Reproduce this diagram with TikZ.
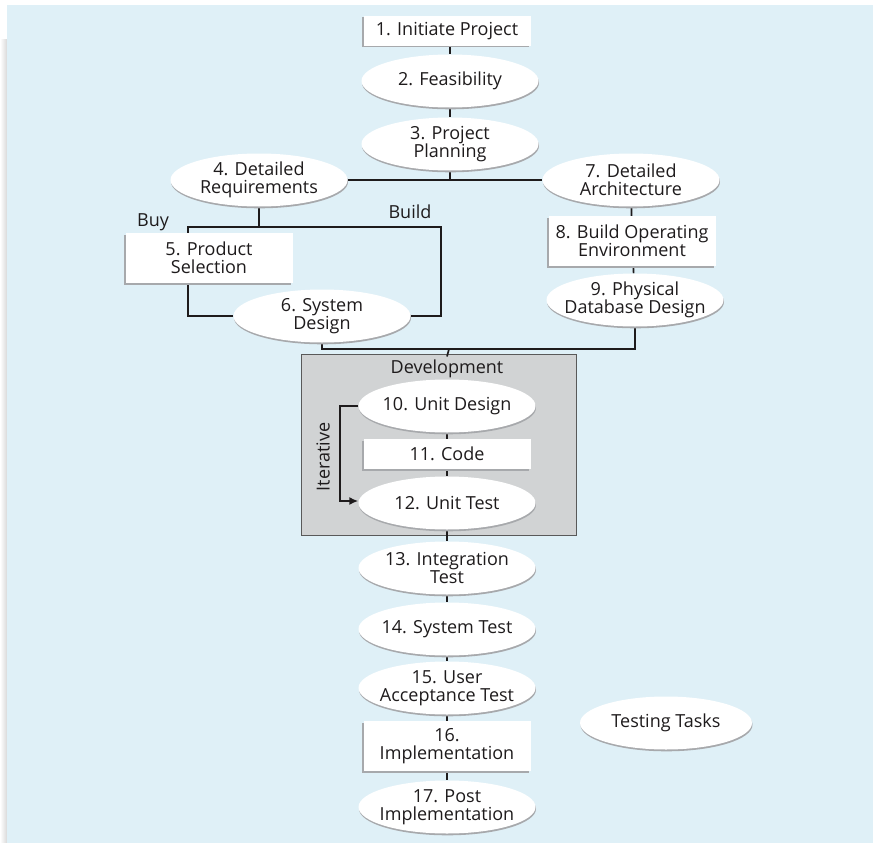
\documentclass[tikz,border=0pt]{standalone}
\usepackage{fontspec}
\setmainfont{Open Sans}
\usetikzlibrary{shapes.geometric,shadows,arrows.meta,backgrounds}

\definecolor{bgblue}{RGB}{223,240,247}
\definecolor{devgray}{RGB}{209,211,212}
\definecolor{shadegray}{RGB}{167,169,172}
\definecolor{inkgray}{RGB}{30,27,28}

\tikzset{
  every node/.style={font=\fontsize{18}{18}\selectfont, text=inkgray, align=center},
  taskell/.style={ellipse, fill=white, inner xsep=-12pt, inner ysep=-4pt,
    minimum width=177pt, minimum height=53pt,
    drop shadow={shadow xshift=0.5pt, shadow yshift=-1.8pt, fill=shadegray, opacity=1}},
  taskbox/.style={rectangle, fill=white, inner sep=0pt, minimum width=167pt, minimum height=50pt,
    drop shadow={shadow xshift=-1.5pt, shadow yshift=-1.5pt, fill=shadegray, opacity=1}},
  flow/.style={draw=inkgray, line width=1.7pt},
}

\begin{document}
\begin{tikzpicture}[x=1pt, y=-1pt]
  \useasboundingbox (0,0) rectangle (873,843);
  % tasks
  \node[taskbox, minimum height=30pt] (n1) at (447,31) {1. Initiate Project};
  \node[taskell] (n2) at (450,81) {2. Feasibility};
  \node[taskell] (n3) at (450,144) {3. Project\\Planning};
  \node[taskell] (n4) at (259,180) {4. Detailed\\Requirements};
  \node[taskbox] (n5) at (209,258) {5. Product\\Selection};
  \node[taskell] (n6) at (322,316) {6. System\\Design};
  \node[taskell] (n7) at (631,180) {7. Detailed\\Architecture};
  \node[taskbox] (n8) at (632,241) {8. Build Operating\\Environment};
  \node[taskell] (n9) at (635,300) {9. Physical\\Database Design};
  \node (devlabel) at (447,369) {Development};
  \node[taskell] (n10) at (447,406) {10. Unit Design};
  \node[taskbox, minimum height=30pt] (n11) at (447,454) {11. Code};
  \node[taskell] (n12) at (447,503) {12. Unit Test};
  \node[taskell] (n13) at (447,568) {13. Integration\\Test};
  \node[taskell] (n14) at (447,629) {14. System Test};
  \node[taskell] (n15) at (447,688) {15. User\\Acceptance Test};
  \node[taskbox] (n16) at (447,746) {16.\\Implementation};
  \node[taskell] (n17) at (447,807) {17. Post\\Implementation};
  \node[taskell, minimum width=172pt] (testing) at (666,723) {Testing Tasks};
  % branch labels
  \node (buylabel) at (153,222) {Buy};
  \node (buildlabel) at (410,212) {Build};
  \node[rotate=90] (iterlabel) at (323,457) {Iterative};
  \coordinate (buy) at (188,227);
  \coordinate (build) at (441,227);
  \coordinate (merge) at (449,349);
  \begin{pgfonlayer}{background}
    \fill[white] (0,0) rectangle (873,843);
    \shade[left color=white, right color=gray!30] (0,40) rectangle (7,843);
    \fill[bgblue] (7,5) rectangle (873,843);
    \draw[draw=black!65, fill=devgray, line width=1pt] (301,354) rectangle (576,535);
    % connectors
    \draw[flow] (n2 |- n1) -- (n2) -- (n3) -- (n3 |- n7);
    \draw[flow] (n4) -- (n7);
    \draw[flow] (n4) -- (n4 |- buy);
    \draw[flow] (n6.west) -| (buy) -- (build) |- (n6.east);
    \draw[flow] (n7) -- (n8) -- (n9);
    \draw[flow] (n6) |- (merge) -| (n9);
    \draw[flow] (merge) -- (devlabel.north);
    \draw[flow] (n10) -- (n11) -- (n12) -- (n13) -- (n14) -- (n15) -- (n16) -- (n17);
  \end{pgfonlayer}
  \draw[flow, -{Latex[length=9pt, width=8pt]}] (n10.west) -- ++(-18,0) |- ([yshift=2pt]n12.west);
\end{tikzpicture}
\end{document}
